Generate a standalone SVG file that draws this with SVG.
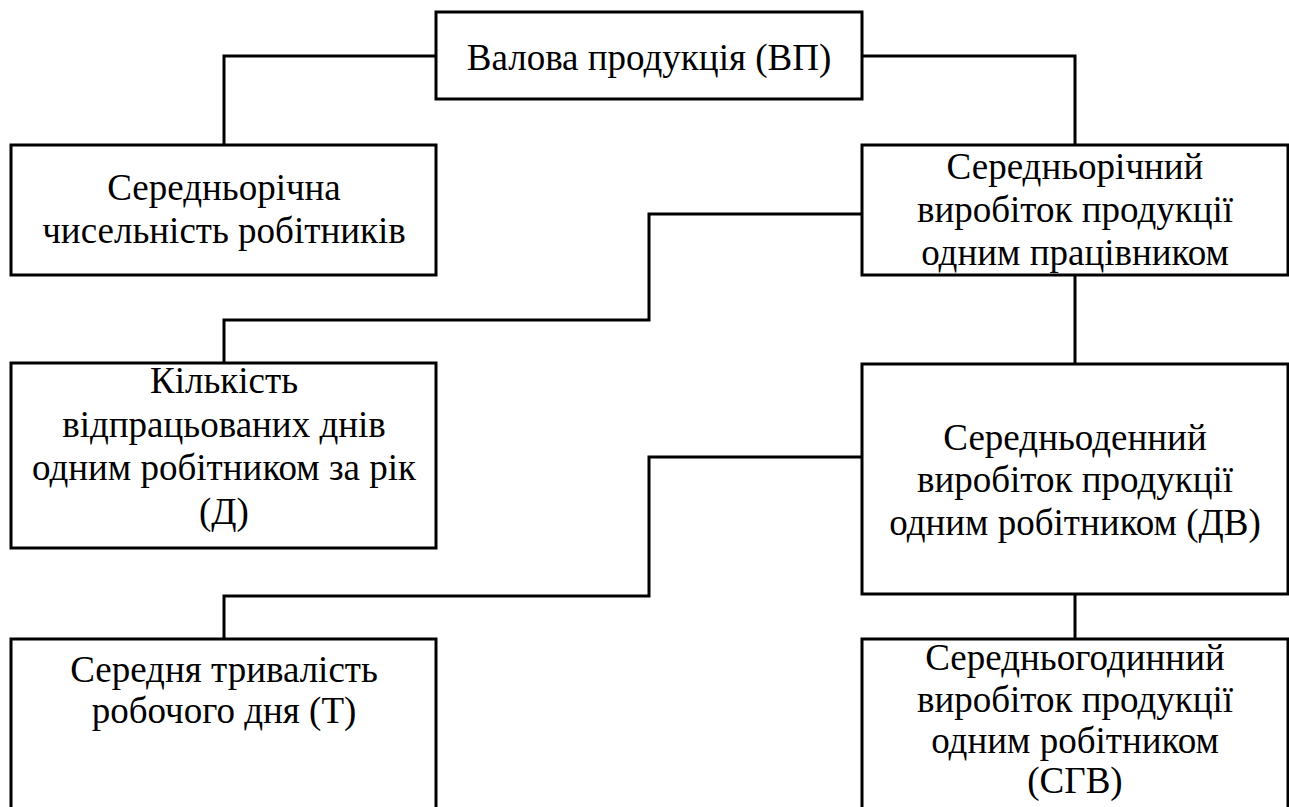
<svg xmlns="http://www.w3.org/2000/svg" width="1289" height="807" viewBox="0 0 1289 807">
<style>
.box{fill:#fff;stroke:#000;stroke-width:3}
.con{fill:none;stroke:#000;stroke-width:3}
.t{font-family:'Liberation Serif','Noto Serif','DejaVu Serif',serif;font-size:37px;fill:#000;text-anchor:middle}
</style>
<rect width="1289" height="807" fill="#fff"/>
<g id="connectors">
<polyline class="con" points="436,56 224,56 224,145"/>
<polyline class="con" points="862,56 1075,56 1075,145"/>
<polyline class="con" points="862,214 649,214 649,320 224,320 224,363"/>
<line class="con" x1="1075" y1="275" x2="1075" y2="364"/>
<polyline class="con" points="862,457 649,457 649,596 224,596 224,639"/>
<line class="con" x1="1075" y1="594" x2="1075" y2="639"/>
</g>
<g id="n-vp">
<rect class="box" x="436" y="12" width="426" height="87"/>
<text class="t" x="649" y="70">Валова продукція (ВП)</text>
</g>
<g id="n-chys">
<rect class="box" x="11" y="145" width="425" height="130"/>
<text class="t" x="224" y="200">Середньорічна</text>
<text class="t" x="224" y="243">чисельність робітників</text>
</g>
<g id="n-rv">
<rect class="box" x="862" y="145" width="426" height="130"/>
<text class="t" x="1075" y="179">Середньорічний</text>
<text class="t" x="1075" y="222">виробіток продукції</text>
<text class="t" x="1075" y="265">одним працівником</text>
</g>
<g id="n-d">
<rect class="box" x="11" y="363" width="425" height="185"/>
<text class="t" x="224" y="393">Кількість</text>
<text class="t" x="224" y="437">відпрацьованих днів</text>
<text class="t" x="224" y="480">одним робітником за рік</text>
<text class="t" x="224" y="524">(Д)</text>
</g>
<g id="n-dv">
<rect class="box" x="862" y="364" width="426" height="230"/>
<text class="t" x="1075" y="450">Середньоденний</text>
<text class="t" x="1075" y="492">виробіток продукції</text>
<text class="t" x="1075" y="535">одним робітником (ДВ)</text>
</g>
<g id="n-t">
<rect class="box" x="11" y="639" width="425" height="200"/>
<text class="t" x="224" y="682">Середня тривалість</text>
<text class="t" x="224" y="723">робочого дня (Т)</text>
</g>
<g id="n-sgv">
<rect class="box" x="862" y="639" width="426" height="200"/>
<text class="t" x="1075" y="670">Середньогодинний</text>
<text class="t" x="1075" y="712">виробіток продукції</text>
<text class="t" x="1075" y="753">одним робітником</text>
<text class="t" x="1075" y="793">(СГВ)</text>
</g>
</svg>
